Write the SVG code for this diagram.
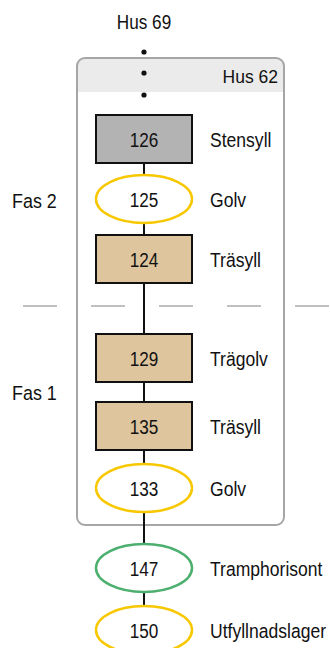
<svg xmlns="http://www.w3.org/2000/svg" width="330" height="648" viewBox="0 0 330 648">
<style>
text{font-family:"Liberation Sans",Arial,sans-serif;font-size:19.5px;fill:#111}
.c{text-anchor:middle}
.box{stroke:#111;stroke-width:2}
.ell{fill:#fff;stroke-width:2.5}
.conn line{stroke:#111;stroke-width:2}
</style>
<rect width="330" height="648" fill="#fff"/>
<g id="container">
<path d="M77,92 V66 a8,8 0 0 1 8,-8 H276 a8,8 0 0 1 8,8 V92 Z" fill="#ebebeb"/>
<rect x="77" y="58" width="207" height="467" rx="8" fill="none" stroke="#a6a6a6" stroke-width="2"/>
<text x="278" y="83" text-anchor="end" style="font-size:17.5px">Hus 62</text>
</g>
<line x1="23" y1="306" x2="330" y2="306" stroke="#aaa" stroke-width="1.5" stroke-dasharray="34 34"/>
<text class="c" transform="translate(144,29) scale(0.88,1)">Hus 69</text>
<text transform="translate(12,207.5) scale(0.92,1)">Fas 2</text>
<text transform="translate(12,400) scale(0.92,1)">Fas 1</text>
<g class="conn">
<circle cx="144" cy="52" r="2.6" fill="#111"/>
<circle cx="144" cy="73" r="2.6" fill="#111"/>
<circle cx="144" cy="95" r="2.6" fill="#111"/>
<line x1="144" y1="163" x2="144" y2="176"/>
<line x1="144" y1="223" x2="144" y2="234"/>
<line x1="144" y1="283" x2="144" y2="334"/>
<line x1="144" y1="382" x2="144" y2="402"/>
<line x1="144" y1="450" x2="144" y2="464"/>
<line x1="144" y1="512" x2="144" y2="544"/>
<line x1="144" y1="592" x2="144" y2="606"/>
</g>
<g id="n126"><rect class="box" x="96" y="115" width="96" height="48" fill="#b3b3b3"/><text class="c" transform="translate(144,146.5) scale(0.88,1)">126</text><text transform="translate(210,146.5) scale(0.9,1)">Stensyll</text></g>
<g id="n125"><ellipse class="ell" cx="144" cy="199" rx="48" ry="24" stroke="#f7c800"/><text class="c" transform="translate(144,206.5) scale(0.88,1)">125</text><text transform="translate(210,206.5) scale(0.9,1)">Golv</text></g>
<g id="n124"><rect class="box" x="96" y="235" width="96" height="48" fill="#dec59e"/><text class="c" transform="translate(144,266.5) scale(0.88,1)">124</text><text transform="translate(210,266.5) scale(0.9,1)">Träsyll</text></g>
<g id="n129"><rect class="box" x="96" y="334" width="96" height="48" fill="#dec59e"/><text class="c" transform="translate(144,365.5) scale(0.88,1)">129</text><text transform="translate(210,365.5) scale(0.9,1)">Trägolv</text></g>
<g id="n135"><rect class="box" x="96" y="402" width="96" height="48" fill="#dec59e"/><text class="c" transform="translate(144,433.5) scale(0.88,1)">135</text><text transform="translate(210,433.5) scale(0.9,1)">Träsyll</text></g>
<g id="n133"><ellipse class="ell" cx="144" cy="488" rx="48" ry="24" stroke="#f7c800"/><text class="c" transform="translate(144,495.5) scale(0.88,1)">133</text><text transform="translate(210,495.5) scale(0.9,1)">Golv</text></g>
<g id="n147"><ellipse class="ell" cx="144" cy="568" rx="48" ry="24" stroke="#4caf6e"/><text class="c" transform="translate(144,575.5) scale(0.88,1)">147</text><text transform="translate(210,575.5) scale(0.9,1)">Tramphorisont</text></g>
<g id="n150"><ellipse class="ell" cx="144" cy="630" rx="48" ry="24" stroke="#f7c800"/><text class="c" transform="translate(144,637.5) scale(0.88,1)">150</text><text transform="translate(210,637.5) scale(0.9,1)">Utfyllnadslager</text></g>
</svg>
